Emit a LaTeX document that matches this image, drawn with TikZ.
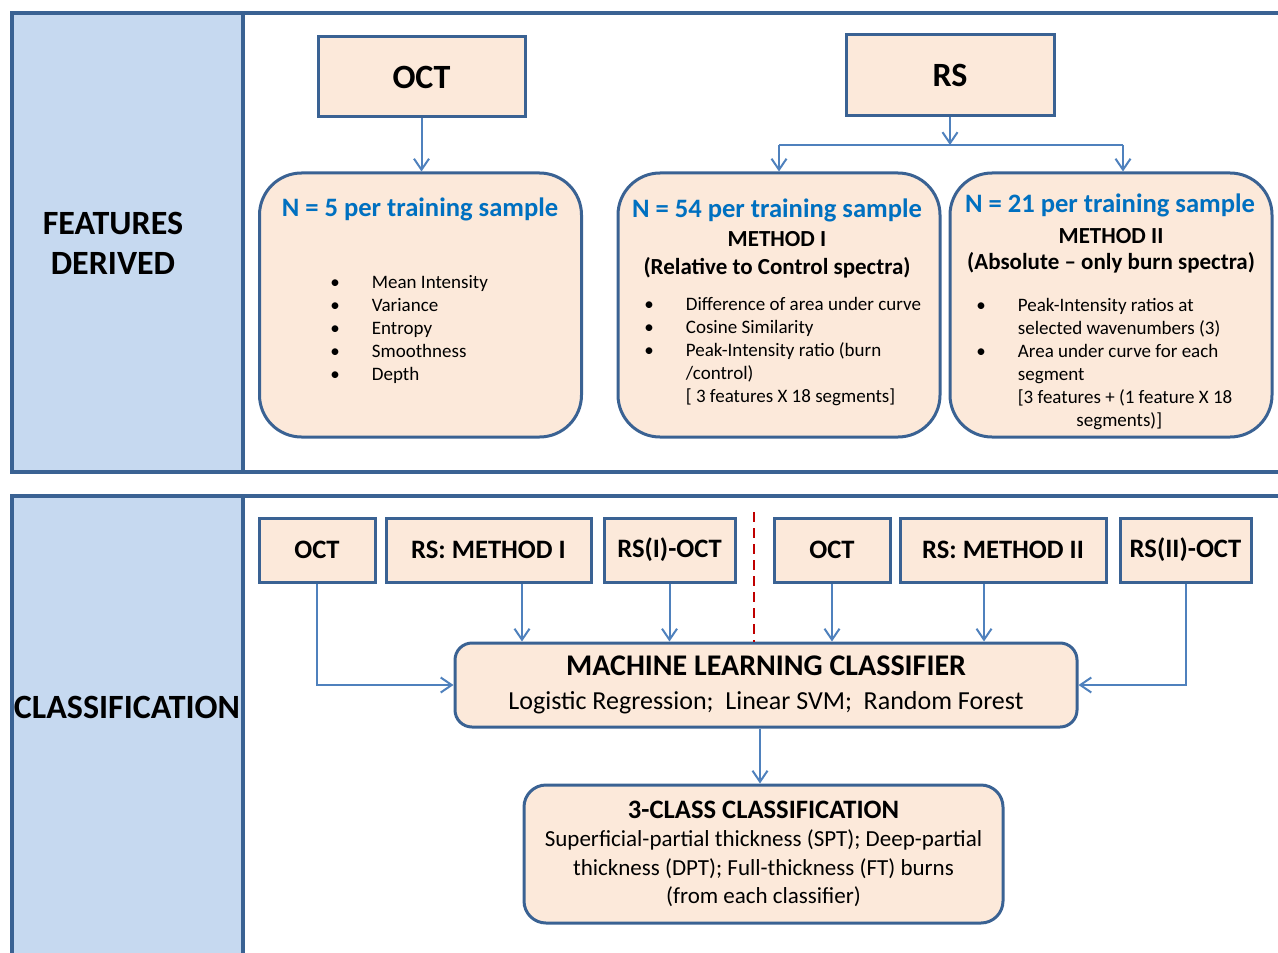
\documentclass[tikz,border=0pt]{standalone}
\usepackage{fontspec}
\setmainfont{Carlito}
\usepackage{tikz}
\usetikzlibrary{arrows.meta}
\usetikzlibrary{positioning}
\definecolor{edgeblue}{HTML}{3A6293}
\definecolor{linkblue}{HTML}{4F81BD}
\definecolor{peach}{HTML}{FCE9DA}
\definecolor{sideblue}{HTML}{C6D9F0}
\definecolor{headblue}{HTML}{0070C0}
\definecolor{splitred}{HTML}{C00000}
\tikzstyle{panel} = [draw=edgeblue, line width=1.6pt]
\tikzstyle{sidebar} = [fill=sideblue]
\tikzstyle{sidetext} = [font=\bfseries\fontsize{17}{20}\selectfont, align=center]
\tikzstyle{srcbox} = [rectangle, draw=edgeblue, fill=peach, line width=1.5pt, text centered, font=\bfseries\fontsize{17}{20}\selectfont]
\tikzstyle{featbox} = [rectangle, rounded corners=21pt, draw=edgeblue, fill=peach, line width=1.5pt, minimum width=161pt, minimum height=132pt]
\tikzstyle{headtext} = [text=headblue, font=\bfseries\fontsize{13.3}{16}\selectfont, anchor=base]
\tikzstyle{methodtext} = [font=\bfseries\fontsize{11.5}{14}\selectfont, anchor=base]
\tikzstyle{listtext} = [font=\fontsize{9.5}{11.5}\selectfont, align=left, anchor=north west, inner sep=0pt]
\tikzstyle{inbox} = [rectangle, draw=edgeblue, fill=peach, line width=1.5pt, minimum height=32pt, text centered, font=\bfseries\fontsize{13.3}{16}\selectfont]
\tikzstyle{mlbox} = [rectangle, rounded corners=8.5pt, draw=edgeblue, fill=peach, line width=1.5pt, minimum width=311pt, minimum height=42pt, align=center, font=\fontsize{13}{17}\selectfont]
\tikzstyle{resultbox} = [rectangle, rounded corners=11pt, draw=edgeblue, fill=peach, line width=1.5pt, minimum width=239.5pt, minimum height=69pt, align=center, font=\fontsize{11.5}{14.25}\selectfont]
\tikzstyle{arrow} = [draw=linkblue, line width=1pt, ->, >={Straight Barb[length=5.5pt,width=7.5pt]}]
\tikzstyle{link} = [draw=linkblue, line width=1pt]
\tikzstyle{divider} = [draw=splitred, line width=1.2pt, dash pattern=on 5pt off 3pt]
\newcommand{\bitem}{\makebox[20.75pt][l]{\textbullet}}
\newcommand{\bcont}{\hspace*{20.75pt}}

\begin{document}
\begin{tikzpicture}[x=0.5pt, y=-0.5pt]

        \clip (0,0) rectangle (1278,952);

        % Panels
        \fill [sidebar] (12,13) rectangle (243,472);
        \fill [sidebar] (12,496) rectangle (243,960);
        \draw [panel] (1290,13) -- (12,13) -- (12,472) -- (1290,472);
        \draw [panel] (243,13) -- (243,472);
        \draw [panel] (1290,496) -- (12,496) -- (12,960);
        \draw [panel] (243,496) -- (243,960);
        \node (featlbl) [sidetext] at (113,243) {FEATURES\\DERIVED};
        \node (clslbl) [sidetext] at (127,707) {CLASSIFICATION};

        % Nodes: features derived
        \node (octsrc) [srcbox, minimum width=103.5pt, minimum height=40pt] at (421.5,77) {OCT};
        \node (rssrc) [srcbox, minimum width=104pt, minimum height=40.5pt] at (950,75.5) {RS};
        \node (octfeat) [featbox] at (420.5,305) {};
        \node (rsonefeat) [featbox] at (779,305) {};
        \node (rstwofeat) [featbox] at (1111,305) {};

        \node (octhead) [headtext] at (420,217) {N = 5 per training sample};
        \node (octlist) [listtext] at (330,275) {\bitem Mean Intensity\\ \bitem Variance\\ \bitem Entropy\\ \bitem Smoothness\\ \bitem Depth};

        \node (rsonehead) [headtext] at (777,218) {N = 54 per training sample};
        \node (rsonemeth) [methodtext] at (777,247) {METHOD I};
        \node (rsonerel) [methodtext] at (777,274) {(Relative to Control spectra)};
        \node (rsonelist) [listtext] at (644,297) {\bitem Difference of area under curve\\ \bitem Cosine Similarity\\ \bitem Peak-Intensity ratio (burn\\ \bcont /control)\\ \bcont [ 3 features X 18 segments]};

        \node (rstwohead) [headtext] at (1110,213) {N = 21 per training sample};
        \node (rstwometh) [methodtext] at (1111,243) {METHOD II};
        \node (rstwoabs) [methodtext] at (1111,270) {(Absolute -- only burn spectra)};
        \node (rstwolist) [listtext] at (976,298) {\bitem Peak-Intensity ratios at\\ \bcont selected wavenumbers (3)\\ \bitem Area under curve for each\\ \bcont segment\\ \bcont [3 features + (1 feature X 18\\ \hspace*{50pt}segments)]};

        % Nodes: classification
        \node (octin) [inbox, minimum width=58pt] at (317,550) {OCT};
        \node (rsonein) [inbox, minimum width=102.5pt] at (488.5,550) {RS: METHOD I};
        \node (rsoneoctin) [inbox, minimum width=65.5pt] at (669.5,550) {RS(I)-OCT};
        \node (octinb) [inbox, minimum width=58pt] at (832,550) {OCT};
        \node (rstwoin) [inbox, minimum width=103pt] at (1003,550) {RS: METHOD II};
        \node (rstwooctin) [inbox, minimum width=65.5pt] at (1185.5,550) {RS(II)-OCT};
        \node (mlc) [mlbox] at (766,685) {{\fontsize{15}{17}\selectfont\bfseries MACHINE LEARNING CLASSIFIER}\\ Logistic Regression;~ Linear SVM;~ Random Forest};
        \node (threecls) [resultbox] at (763.5,854) {{\fontsize{13.3}{14.25}\selectfont\bfseries 3-CLASS CLASSIFICATION}\\ Superficial-partial thickness (SPT); Deep-partial\\ thickness (DPT); Full-thickness (FT) burns\\ (from each classifier)};

        % Arrows
        \coordinate (rssplit) at (950,145);
        \draw [arrow] (octsrc) -- (octsrc |- octfeat.north);
        \draw [arrow] (rssrc) -- (rssplit);
        \draw [link] (rssplit -| rsonefeat) -- (1123,0 |- rssplit);
        \draw [arrow] (rssplit -| rsonefeat) -- (rsonefeat.north);
        \draw [arrow] (1123,0 |- rssplit) -- (1123,0 |- rstwofeat.north);

        \draw [arrow] (octin.south) |- (mlc.west);
        \draw [arrow] (522,0 |- rsonein.south) -- (522,0 |- mlc.north);
        \draw [arrow] (rsoneoctin.south) -- (rsoneoctin.south |- mlc.north);
        \draw [arrow] (octinb.south) -- (octinb.south |- mlc.north);
        \draw [arrow] (984,0 |- rstwoin.south) -- (984,0 |- mlc.north);
        \draw [arrow] (rstwooctin.south) |- (mlc.east);
        \draw [arrow] (760,0 |- mlc.south) -- (760,0 |- threecls.north);
        \draw [divider] (754,512) -- (754,0 |- mlc.north);

    \end{tikzpicture}
\end{document}
